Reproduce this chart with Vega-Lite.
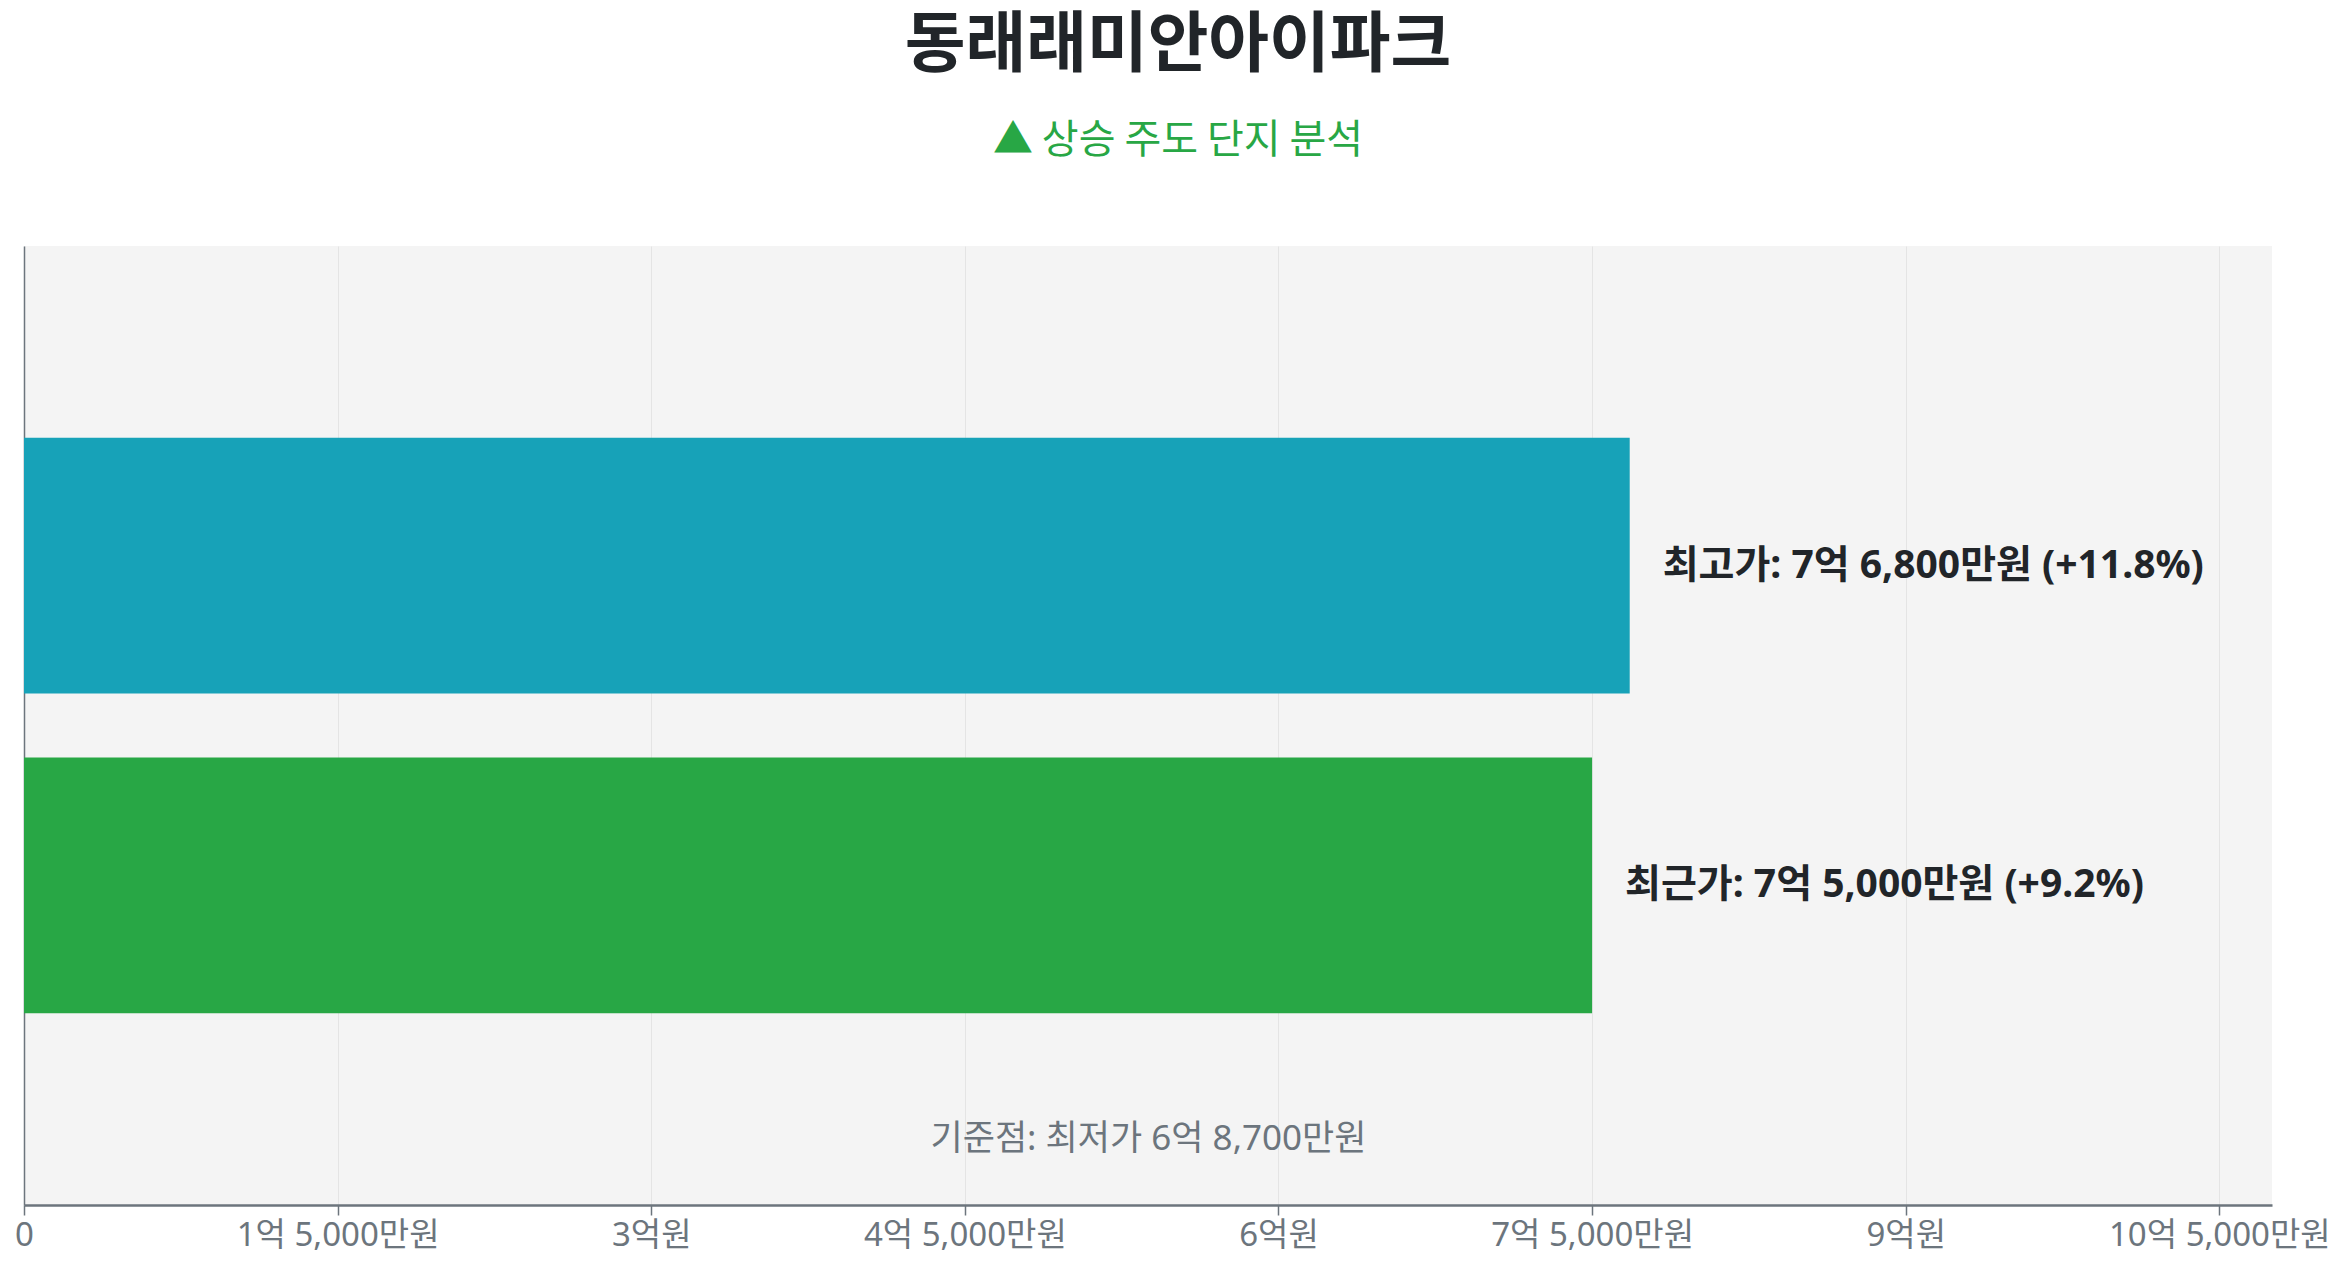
{
  "$schema": "https://vega.github.io/schema/vega-lite/v6.json",
  "width": 2248,
  "height": 959,
  "autosize": {"type": "none"},
  "padding": {"left": 24, "top": 246, "right": 76, "bottom": 63},
  "background": "white",
  "config": {
    "font": "Noto Sans, Noto Sans CJK KR",
    "view": {"fill": "#f4f4f4", "stroke": null}
  },
  "title": {
    "text": "동래래미안아이파크",
    "subtitle": "▲ 상승 주도 단지 분석",
    "anchor": "middle",
    "dx": 30,
    "font": "Noto Sans CJK KR",
    "subtitleFont": "Noto Sans CJK KR",
    "fontSize": 66,
    "fontWeight": "bold",
    "color": "#212529",
    "subtitleFontSize": 40,
    "subtitleColor": "#28a745",
    "subtitlePadding": 41,
    "offset": 84
  },
  "data": {
    "values": [
      {"구분": "최고가", "가격": 768000000, "라벨": "최고가: 7억 6,800만원 (+11.8%)"},
      {"구분": "최근가", "가격": 750000000, "라벨": "최근가: 7억 5,000만원 (+9.2%)"}
    ]
  },
  "encoding": {
    "y": {
      "field": "구분",
      "type": "nominal",
      "sort": ["최고가", "최근가"],
      "scale": {"paddingInner": 0.2, "paddingOuter": 0.6},
      "axis": {"title": null, "labels": false, "ticks": false, "grid": false, "domainColor": "#6c757d", "domainWidth": 1.5}
    },
    "x": {
      "field": "가격",
      "type": "quantitative",
      "scale": {"domain": [0, 1075200000], "nice": false},
      "axis": {
        "values": [0, 150000000, 300000000, 450000000, 600000000, 750000000, 900000000, 1050000000],
        "labelExpr": "datum.value == 0 ? '0' : (floor(datum.value / 100000000) + '억' + (datum.value % 100000000 == 0 ? '원' : ' ' + format((datum.value % 100000000) / 10000, ',') + '만원'))",
        "labelFlush": false,
        "labelOverlap": false,
        "labelLimit": 0,
        "labelFontSize": 33,
        "labelColor": "#6c757d",
        "labelPadding": 4,
        "tickSize": 10,
        "tickColor": "#6c757d",
        "tickWidth": 1.5,
        "domainColor": "#6c757d",
        "domainWidth": 2.5,
        "grid": true,
        "gridColor": "#e4e4e4",
        "gridWidth": 1,
        "title": "기준점: 최저가 6억 8,700만원",
        "titleY": -67,
        "titleBaseline": "middle",
        "titleFontSize": 35,
        "titleFontWeight": "normal",
        "titleColor": "#6c757d"
      }
    }
  },
  "layer": [
    {
      "mark": {"type": "bar"},
      "encoding": {
        "color": {
          "field": "구분",
          "type": "nominal",
          "scale": {"domain": ["최고가", "최근가"], "range": ["#17a2b8", "#28a745"]},
          "legend": null
        }
      }
    },
    {
      "mark": {"type": "text", "align": "left", "baseline": "middle", "dx": 33, "fontSize": 39, "fontWeight": "bold", "color": "#212529"},
      "encoding": {
        "text": {"field": "라벨", "type": "nominal"}
      }
    }
  ]
}
